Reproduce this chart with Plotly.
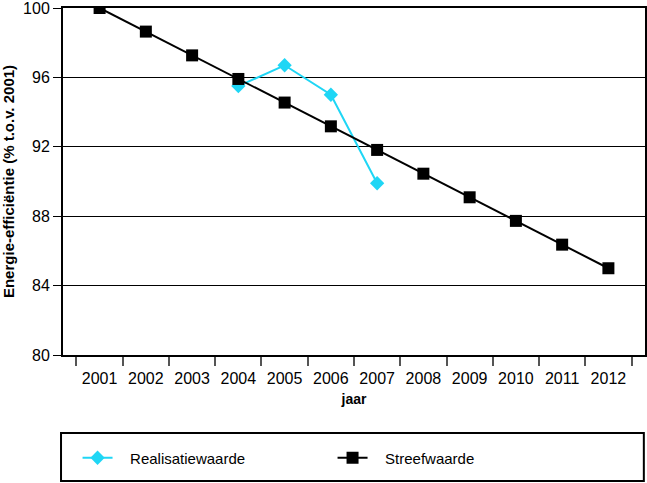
import plotly.graph_objects as go

years = ["2001", "2002", "2003", "2004", "2005", "2006", "2007", "2008", "2009", "2010", "2011", "2012"]
streef = [100.0, 98.64, 97.27, 95.91, 94.55, 93.18, 91.82, 90.45, 89.09, 87.73, 86.36, 85.0]
real_years = ["2004", "2005", "2006", "2007"]
real_vals = [95.5, 96.7, 95.0, 89.9]
y_ticks = [80, 84, 88, 92, 96, 100]

fig = go.Figure()
fig.add_trace(go.Scatter(
    x=real_years, y=real_vals, name="\u00a0\u00a0\u00a0Realisatiewaarde", mode="lines+markers",
    line=dict(color="#1fd6f5", width=2),
    marker=dict(symbol="diamond", size=11, color="#1fd6f5"),
))
fig.add_trace(go.Scatter(
    x=years, y=streef, name="\u00a0\u00a0\u00a0Streefwaarde", mode="lines+markers",
    line=dict(color="black", width=2),
    marker=dict(symbol="square", size=12, color="black"),
))

fig.update_layout(
    width=647, height=483,
    margin=dict(l=63, r=2, t=8, b=128, autoexpand=False),
    plot_bgcolor="white", paper_bgcolor="white",
    font=dict(family="Liberation Sans, Arial, sans-serif", size=16, color="black"),
    showlegend=True,
    legend=dict(orientation="h", x=0.025, xanchor="left", y=-0.2968, yanchor="middle",
                font=dict(size=15), entrywidth=210, entrywidthmode="pixels",
                bgcolor="rgba(0,0,0,0)"),
    shapes=[dict(type="rect", xref="paper", yref="paper", x0=-0.0034, x1=0.998,
                 y0=-0.2248, y1=-0.3631, line=dict(color="black", width=2))],
)
fig.update_xaxes(
    type="category", categoryorder="array", categoryarray=years,
    showline=True, linecolor="black", linewidth=2, mirror=True, automargin=False,
    ticks="outside", tickson="boundaries", ticklen=9, tickwidth=2, tickcolor="#555",
    ticklabelstandoff=8,
    showgrid=False,
    title=dict(text="<b>jaar</b>", font=dict(size=14), standoff=8),
)
fig.update_yaxes(
    range=[80, 100], tickmode="array", tickvals=y_ticks, automargin=False,
    ticklabeloverflow="allow",
    showline=True, linecolor="black", linewidth=2, mirror=True,
    ticks="outside", ticklen=8, tickwidth=1, tickcolor="black",
    showgrid=True, gridcolor="black", gridwidth=1, zeroline=False,
    title=dict(text="<b>Energie-efficiëntie (% t.o.v. 2001)</b>", font=dict(size=15), standoff=6),
)

fig.write_html("out.html", config={"displayModeBar": False},
               post_script="document.body.style.margin='0';document.body.style.overflow='hidden';")
